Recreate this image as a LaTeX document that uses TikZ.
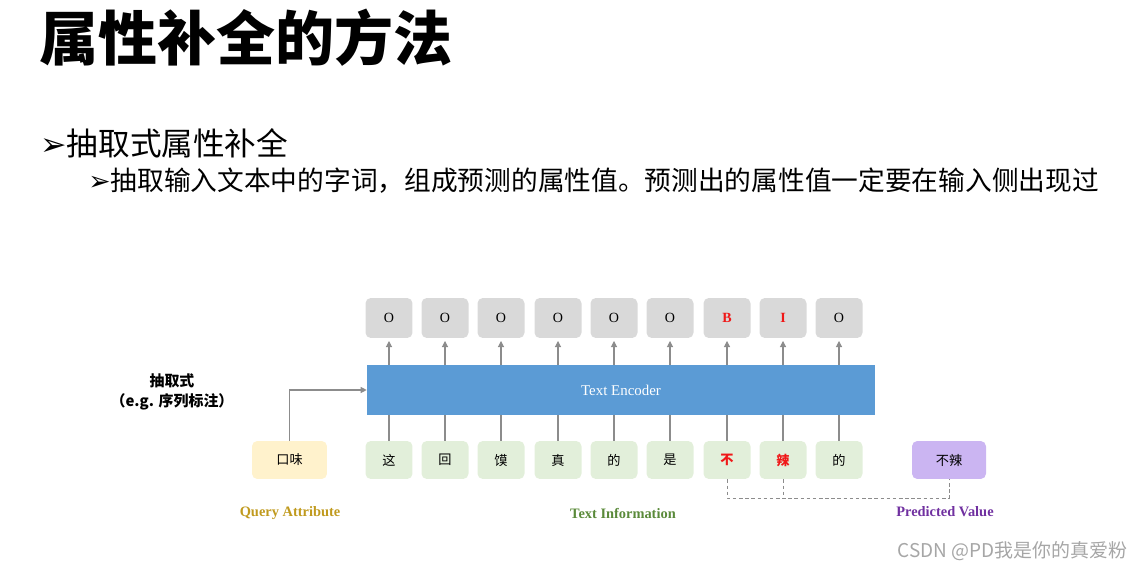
\documentclass[tikz,border=0pt]{standalone}
\usepackage{fontspec}
\setmainfont{Liberation Serif}
\newfontfamily\cjk{Noto Sans CJK SC}
\newfontfamily\sym{DejaVu Sans}
\usetikzlibrary{arrows.meta}
\definecolor{tagfill}{HTML}{D9D9D9}
\definecolor{wordfill}{HTML}{E2EFDA}
\definecolor{queryfill}{HTML}{FFF2CC}
\definecolor{predfill}{HTML}{CBB5F2}
\definecolor{encfill}{HTML}{5B9BD5}
\definecolor{linkgray}{HTML}{8C8C8C}
\definecolor{querytxt}{HTML}{C09A1E}
\definecolor{infotxt}{HTML}{5A8A3A}
\definecolor{predtxt}{HTML}{7030A0}
\definecolor{hitred}{HTML}{F01818}
\begin{document}
\begin{tikzpicture}[x=0.02cm,y=-0.02cm,
  tagbox/.style={fill=tagfill,rounded corners=3pt,minimum width=0.94cm,minimum height=0.8cm,inner sep=0pt,font=\fontsize{8}{9}\selectfont},
  wordbox/.style={fill=wordfill,rounded corners=3pt,minimum width=0.94cm,minimum height=0.76cm,inner sep=0pt,font=\cjk\fontsize{7.5}{9}\selectfont},
  up/.style={draw=linkgray,line width=0.6pt,-{Triangle[length=3.5pt,width=3.5pt]},shorten >=1.5pt},
  feed/.style={draw=linkgray,line width=0.6pt,-},
  dashlink/.style={draw=linkgray,line width=0.5pt,dash pattern=on 2pt off 1.5pt},
  caption/.style={font=\bfseries\fontsize{8.2}{10}\selectfont}]
\useasboundingbox (0,0) rectangle (1143,571);
\node[anchor=west,inner sep=0pt,font=\cjk\bfseries\fontsize{33.6}{36}\selectfont] (title) at (39,38) {属性补全的方法};
\node[anchor=west,inner sep=0pt,font=\fontsize{18}{20}\selectfont] (l1) at (40,143) {{\sym ➢}\cjk 抽取式属性补全};
\node[anchor=west,inner sep=0pt,font=\fontsize{15.2}{17}\selectfont] (l2) at (88,181) {{\sym ➢}\cjk 抽取输入文本中的字词，组成预测的属性值。预测出的属性值一定要在输入侧出现过};

\node[fill=encfill,minimum width=10.16cm,minimum height=1cm,inner sep=0pt,text=white,font=\fontsize{8.5}{10}\selectfont] (enc) at (621,390) {Text Encoder};

\node[tagbox] (o1) at (389,318) {O};
\node[tagbox] (o2) at (445,318) {O};
\node[tagbox] (o3) at (501,318) {O};
\node[tagbox] (o4) at (558,318) {O};
\node[tagbox] (o5) at (614,318) {O};
\node[tagbox] (o6) at (670,318) {O};
\node[tagbox,text=hitred,font=\bfseries\fontsize{8}{9}\selectfont] (o7) at (727,318) {B};
\node[tagbox,text=hitred,font=\bfseries\fontsize{8}{9}\selectfont] (o8) at (783,318) {I};
\node[tagbox] (o9) at (839,318) {O};

\node[wordbox] (w1) at (389,460) {这};
\node[wordbox] (w2) at (445,460) {回};
\node[wordbox] (w3) at (501,460) {馍};
\node[wordbox] (w4) at (558,460) {真};
\node[wordbox] (w5) at (614,460) {的};
\node[wordbox] (w6) at (670,460) {是};
\node[wordbox,text=hitred,font=\cjk\bfseries\fontsize{7.5}{9}\selectfont] (w7) at (727,460) {不};
\node[wordbox,text=hitred,font=\cjk\bfseries\fontsize{7.5}{9}\selectfont] (w8) at (783,460) {辣};
\node[wordbox] (w9) at (839,460) {的};

\node[wordbox,fill=queryfill,minimum width=1.5cm] (q) at (289.5,460) {口味};
\node[wordbox,fill=predfill,minimum width=1.48cm] (p) at (949,460) {不辣};

\path[up] (enc.north -| o1) -- (o1.south);
\path[up] (enc.north -| o2) -- (o2.south);
\path[up] (enc.north -| o3) -- (o3.south);
\path[up] (enc.north -| o4) -- (o4.south);
\path[up] (enc.north -| o5) -- (o5.south);
\path[up] (enc.north -| o6) -- (o6.south);
\path[up] (enc.north -| o7) -- (o7.south);
\path[up] (enc.north -| o8) -- (o8.south);
\path[up] (enc.north -| o9) -- (o9.south);

\path[feed] (w1.north) -- (enc.south -| w1);
\path[feed] (w2.north) -- (enc.south -| w2);
\path[feed] (w3.north) -- (enc.south -| w3);
\path[feed] (w4.north) -- (enc.south -| w4);
\path[feed] (w5.north) -- (enc.south -| w5);
\path[feed] (w6.north) -- (enc.south -| w6);
\path[feed] (w7.north) -- (enc.south -| w7);
\path[feed] (w8.north) -- (enc.south -| w8);
\path[feed] (w9.north) -- (enc.south -| w9);

\path[feed,-{Triangle[length=3.5pt,width=3.5pt]}] (q.north) |- (enc.west);

\coordinate (dl) at (727,498);
\path[dashlink] (w7.south) -- (w7.south |- dl) -| (p.south);
\path[dashlink] (w8.south) -- (w8.south |- dl);

\node[align=center,font=\cjk\bfseries\fontsize{8.5}{11}\selectfont] (kind) at (172,392) {抽取式\\（e.g. 序列标注）};
\node[caption,text=querytxt] (qlab) at (290,513) {Query Attribute};
\node[caption,text=infotxt] (ilab) at (623,513) {Text Information};
\node[caption,text=predtxt] (plab) at (945,512) {Predicted Value};
\node[anchor=east,inner sep=0pt,text=gray!70,font=\cjk\fontsize{10.8}{12}\selectfont] (mark) at (1128,551) {CSDN @PD我是你的真爱粉};
\end{tikzpicture}
\end{document}
